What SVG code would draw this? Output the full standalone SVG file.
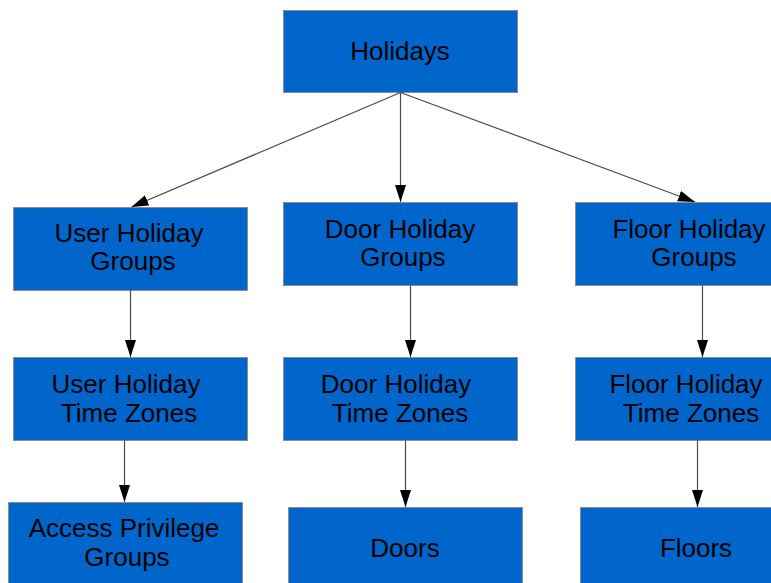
<svg xmlns="http://www.w3.org/2000/svg" width="771" height="583" viewBox="0 0 771 583">
  <style>
    .box { fill: #0066cc; stroke: #8c8c8c; stroke-width: 1; }
    .lbl { font-family: "Liberation Sans", Arial, sans-serif; font-size: 26px; fill: #000; text-anchor: middle; }
    .edge { stroke: #4a4a4a; stroke-width: 1.2; fill: none; marker-end: url(#arrow); }
  </style>
  <defs>
    <marker id="arrow" markerUnits="userSpaceOnUse" markerWidth="18" markerHeight="12" refX="17" refY="5.5" orient="auto">
      <path d="M0,0 L17,5.5 L0,11 Z" fill="#000"/>
    </marker>
  </defs>
  <rect width="771" height="583" fill="#fff"/>

  <g id="holidays">
    <rect class="box" x="283.5" y="10.5" width="234" height="82"/>
    <text class="lbl" x="400" y="60">Holidays</text>
  </g>

  <g id="user-holiday-groups">
    <rect class="box" x="13.5" y="207.5" width="234" height="83"/>
    <text class="lbl" x="129" y="242">User Holiday</text>
    <text class="lbl" x="133" y="270">Groups</text>
  </g>
  <g id="door-holiday-groups">
    <rect class="box" x="283.5" y="202.5" width="234" height="83"/>
    <text class="lbl" x="400" y="238">Door Holiday</text>
    <text class="lbl" x="403" y="266">Groups</text>
  </g>
  <g id="floor-holiday-groups">
    <rect class="box" x="575.5" y="202.5" width="234" height="83"/>
    <text class="lbl" x="689" y="238">Floor Holiday</text>
    <text class="lbl" x="694" y="266">Groups</text>
  </g>

  <g id="user-holiday-time-zones">
    <rect class="box" x="13.5" y="357.5" width="234" height="83"/>
    <text class="lbl" x="126" y="393">User Holiday</text>
    <text class="lbl" x="129" y="422">Time Zones</text>
  </g>
  <g id="door-holiday-time-zones">
    <rect class="box" x="283.5" y="357.5" width="234" height="83"/>
    <text class="lbl" x="396" y="393">Door Holiday</text>
    <text class="lbl" x="400" y="422">Time Zones</text>
  </g>
  <g id="floor-holiday-time-zones">
    <rect class="box" x="575.5" y="357.5" width="234" height="83"/>
    <text class="lbl" x="686" y="393">Floor Holiday</text>
    <text class="lbl" x="691" y="422">Time Zones</text>
  </g>

  <g id="access-privilege-groups">
    <rect class="box" x="8.5" y="502.5" width="234" height="83"/>
    <text class="lbl" x="124" y="537">Access Privilege</text>
    <text class="lbl" x="127" y="566">Groups</text>
  </g>
  <g id="doors">
    <rect class="box" x="288.5" y="507.5" width="234" height="83"/>
    <text class="lbl" x="405" y="557">Doors</text>
  </g>
  <g id="floors">
    <rect class="box" x="580.5" y="507.5" width="234" height="83"/>
    <text class="lbl" x="696" y="557">Floors</text>
  </g>

  <g id="connectors">
    <line class="edge" x1="400.5" y1="92.5" x2="131.5" y2="207"/>
    <line class="edge" x1="400.5" y1="92.5" x2="400.5" y2="202"/>
    <line class="edge" x1="400.5" y1="92.5" x2="695" y2="202"/>
    <line class="edge" x1="130.5" y1="290.5" x2="130.5" y2="357"/>
    <line class="edge" x1="410.5" y1="285.5" x2="410.5" y2="357"/>
    <line class="edge" x1="702.5" y1="285.5" x2="702.5" y2="357"/>
    <line class="edge" x1="124.5" y1="440.5" x2="124.5" y2="502"/>
    <line class="edge" x1="405.5" y1="440.5" x2="405.5" y2="507"/>
    <line class="edge" x1="697.5" y1="440.5" x2="697.5" y2="507"/>
  </g>
</svg>
